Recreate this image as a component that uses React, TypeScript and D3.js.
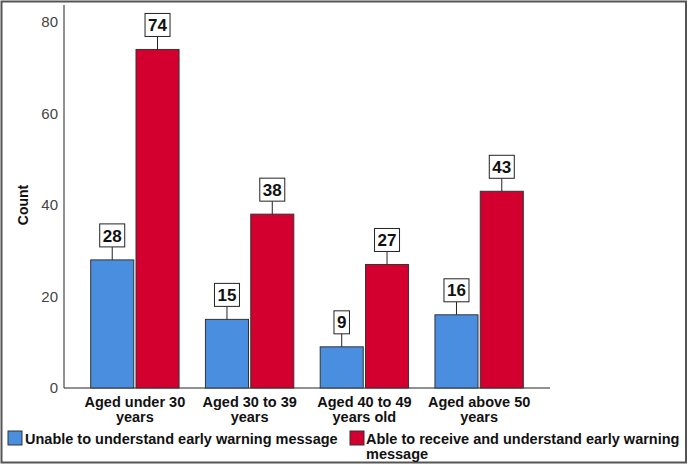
import * as d3 from "d3";
import { useEffect } from "react";

const categories = [
  ["Aged under 30", "years"],
  ["Aged 30 to 39", "years"],
  ["Aged 40 to 49", "years old"],
  ["Aged above 50", "years"],
];
const seriesNames = [
  "Unable to understand early warning message",
  "Able to receive and understand early warning message",
];
const unableValues = [28, 15, 9, 16];
const ableValues = [74, 38, 27, 43];
const yTicks = [0, 20, 40, 60, 80];

const colors = ["#4a8ee0", "#d3002f"];
const font = "'Liberation Sans', Arial, sans-serif";

const App = () => {
  useEffect(() => {
    document.body.style.margin = "0";
  }, []);

  const width = 688,
    height = 466;

  const y = d3.scaleLinear().domain([0, 80]).range([388, 22]);
  const x0 = d3
    .scaleBand()
    .domain(categories.map((c) => c[0]))
    .range([77.5, 536.5])
    .paddingInner(0.23)
    .paddingOuter(0.115);
  const x1 = d3
    .scaleBand()
    .domain(["0", "1"])
    .range([0, x0.bandwidth()])
    .paddingInner(0.05);

  const rows = categories.map((c, i) => ({
    key: c[0],
    values: [unableValues[i], ableValues[i]],
  }));

  return (
    <svg width={width} height={height} style={{ display: "block", fontFamily: font }}>
      <rect x={1.5} y={1.5} width={684.5} height={461} fill="white" stroke="#555" strokeWidth={2} />

      {/* axes */}
      <line x1={64} x2={64} y1={5} y2={388} stroke="#222" strokeWidth={1} />
      <line x1={64} x2={550} y1={388} y2={388} stroke="#222" strokeWidth={1} />
      {yTicks.map((t) => (
        <text key={t} x={58} y={y(t)} dy="0.35em" textAnchor="end" fontSize={15} fill="#444">
          {t}
        </text>
      ))}
      <text
        transform={`translate(28,${y(40)}) rotate(-90)`}
        textAnchor="middle"
        fontSize={14}
        fontWeight="bold"
        fill="#111"
      >
        Count
      </text>

      {/* bars */}
      {rows.map((r) => (
        <g key={r.key} transform={`translate(${x0(r.key)},0)`}>
          {r.values.map((v, j) => {
            const bx = x1(String(j)) as number;
            const bw = x1.bandwidth();
            const cx = bx + bw / 2;
            const label = String(v);
            const boxW = label.length * 9.5 + 6;
            const boxBottom = y(v) - 13;
            return (
              <g key={j}>
                <rect
                  x={bx}
                  y={y(v)}
                  width={bw}
                  height={y(0) - y(v)}
                  fill={colors[j]}
                  stroke="#333"
                  strokeWidth={1}
                />
                <line x1={cx} x2={cx} y1={boxBottom} y2={y(v)} stroke="#222" strokeWidth={1} />
                <rect
                  x={cx - boxW / 2}
                  y={boxBottom - 23}
                  width={boxW}
                  height={23}
                  fill="white"
                  stroke="#222"
                  strokeWidth={1}
                />
                <text
                  x={cx}
                  y={boxBottom - 11.5}
                  dy="0.36em"
                  textAnchor="middle"
                  fontSize={17}
                  fontWeight="bold"
                  fill="#111"
                >
                  {label}
                </text>
              </g>
            );
          })}
        </g>
      ))}

      {/* category labels */}
      {categories.map((c) => (
        <text
          key={c[0]}
          x={(x0(c[0]) as number) + x0.bandwidth() / 2}
          y={407}
          textAnchor="middle"
          fontSize={14.5}
          fontWeight="bold"
          fill="#111"
        >
          <tspan x={(x0(c[0]) as number) + x0.bandwidth() / 2}>{c[0]}</tspan>
          <tspan x={(x0(c[0]) as number) + x0.bandwidth() / 2} dy={15}>
            {c[1]}
          </tspan>
        </text>
      ))}

      {/* legend */}
      <rect x={8} y={431} width={14} height={14} fill={colors[0]} stroke="#333" />
      <text x={25} y={444} fontSize={14.5} fontWeight="bold" fill="#111">
        {seriesNames[0]}
      </text>
      <rect x={350} y={431} width={14} height={14} fill={colors[1]} stroke="#333" />
      <text x={366} y={444} fontSize={14.5} fontWeight="bold" fill="#111">
        <tspan x={366}>{seriesNames[1].replace(" message", "")}</tspan>
        <tspan x={366} dy={15}>
          message
        </tspan>
      </text>
    </svg>
  );
};

export default App;
